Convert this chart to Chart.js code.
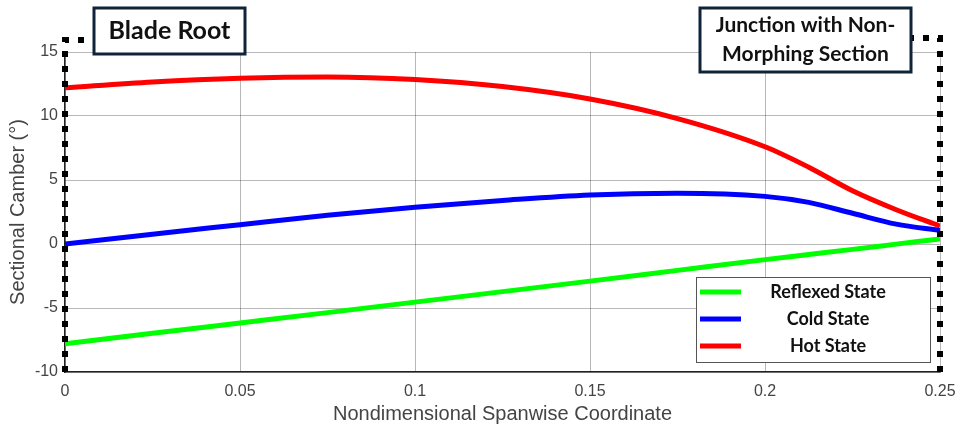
<!DOCTYPE html>
<html>
<head>
<meta charset="utf-8">
<script src="https://cdn.jsdelivr.net/npm/chart.js@4"></script>
<style>
  html, body { margin: 0; padding: 0; background: #fff; }
  #wrap { width: 961px; height: 432px; }
</style>
</head>
<body>
<div id="wrap"><canvas id="camberChart"></canvas></div>
<script>
// ---------- Data ----------

const spanX = [0, 0.025, 0.05, 0.075, 0.1, 0.125, 0.15, 0.175, 0.2, 0.2125, 0.225, 0.2375, 0.25];

const reflexedState = [-7.8, -6.98, -6.17, -5.36, -4.54, -3.72, -2.9, -2.06, -1.22, -0.82, -0.42, -0.01, 0.4];
const coldState = [0, 0.77, 1.51, 2.25, 2.88, 3.4, 3.83, 3.97, 3.72, 3.25, 2.4, 1.55, 1.05];
const hotState = [12.2, 12.66, 12.95, 13.05, 12.85, 12.3, 11.33, 9.8, 7.6, 6.0, 4.16, 2.68, 1.4];

const xTicks = [0, 0.05, 0.1, 0.15, 0.2, 0.25];
const yTicks = [-10, -5, 0, 5, 10, 15];

const seriesNames = ["Reflexed State", "Cold State", "Hot State"];
const seriesColors = ["#00ff00", "#0000ff", "#ff0000"];

function toPoints(values) {
    return values.map((v, i) => ({ x: spanX[i], y: v }));
}

// -------- Boxes, dotted borders and legend --------

const boxFont = "Lato, 'Open Sans', sans-serif";
const axisFont = "'Liberation Sans', Arial, sans-serif";

function labelBox(ctx, x, y, w, h, lines, size) {
    ctx.save();
    ctx.fillStyle = "#ffffff";
    ctx.fillRect(x, y, w, h);
    ctx.lineWidth = 3;
    ctx.strokeStyle = "#0f2438";
    ctx.strokeRect(x, y, w, h);
    ctx.fillStyle = "#111111";
    ctx.font = "bold " + size + "px " + boxFont;
    ctx.textAlign = "center";
    ctx.textBaseline = "middle";
    const step = h / (lines.length + 0.2);
    lines.forEach((t, i) => {
        ctx.fillText(t, x + w / 2, y + step * (i + 0.6));
    });
    ctx.restore();
}

const overlayPlugin = {
    id: "overlay",
    afterDraw(chart) {
        const ctx = chart.ctx;
        const xs = chart.scales.x;
        const left = xs.getPixelForValue(0);
        const right = xs.getPixelForValue(0.25);
        const bottom = chart.chartArea.bottom;

        // dotted black borders at root and junction
        ctx.save();
        ctx.strokeStyle = "#000000";
        ctx.lineWidth = 6;
        ctx.setLineDash([6, 9]);
        ctx.beginPath();
        ctx.moveTo(left, bottom);
        ctx.lineTo(left, 40);
        ctx.lineTo(94, 40);
        ctx.moveTo(right, bottom);
        ctx.lineTo(right, 38);
        ctx.lineTo(908, 38);
        ctx.stroke();
        ctx.restore();

        labelBox(ctx, 94, 8, 151, 46, ["Blade Root"], 25);
        labelBox(ctx, 700, 8, 211, 64, ["Junction with Non-", "Morphing Section"], 21);

        // legend
        const lx = 696, ly = 277, lw = 234, lh = 85;
        ctx.save();
        ctx.fillStyle = "#ffffff";
        ctx.fillRect(lx, ly, lw, lh);
        ctx.lineWidth = 1;
        ctx.strokeStyle = "#555555";
        ctx.strokeRect(lx + 0.5, ly + 0.5, lw, lh);
        ctx.font = "bold 18px " + boxFont;
        ctx.textAlign = "center";
        ctx.textBaseline = "middle";
        const rows = [292, 319, 346];
        chart.data.datasets.forEach((ds, i) => {
            ctx.strokeStyle = ds.borderColor;
            ctx.lineWidth = 5;
            ctx.beginPath();
            ctx.moveTo(700, rows[i]);
            ctx.lineTo(741, rows[i]);
            ctx.stroke();
            ctx.fillStyle = "#111111";
            ctx.fillText(ds.label, 828, rows[i]);
        });
        ctx.restore();
    }
};

// -------- Create Chart --------

const camberChart = new Chart(document.getElementById("camberChart"), {

    type: "line",

    data: {
        datasets: seriesNames.map((name, i) => ({
            label: name,
            data: toPoints([reflexedState, coldState, hotState][i]),
            borderColor: seriesColors[i],
            backgroundColor: seriesColors[i],
            borderWidth: 5,
            fill: false,
            pointRadius: 0,
            cubicInterpolationMode: "monotone"
        }))
    },

    options: {

        responsive: true,

        maintainAspectRatio: false,

        animation: false,

        layout: {
            padding: { top: 52, right: 21, left: 0, bottom: 0 }
        },

        plugins: {
            legend: { display: false },
            tooltip: { enabled: false }
        },

        scales: {

            x: {
                type: "linear",
                min: 0,
                max: 0.25,
                afterBuildTicks: (scale) => {
                    scale.ticks = xTicks.map(v => ({ value: v }));
                },
                afterFit: (scale) => {
                    scale.height = 60;
                    scale.paddingLeft = 0;
                    scale.paddingRight = 0;
                },
                ticks: {
                    color: "#444444",
                    font: { family: axisFont, size: 16 },
                    padding: 10,
                    maxRotation: 0,
                    callback: (v) => String(v)
                },
                grid: {
                    color: "rgba(0,0,0,0.28)",
                    drawTicks: false
                },
                border: { color: "#222222", width: 1.5 },
                title: {
                    display: true,
                    text: "Nondimensional Spanwise Coordinate",
                    color: "#444444",
                    font: { family: axisFont, size: 20 },
                    padding: { top: 2, bottom: 6 }
                }
            },

            y: {
                min: -10,
                max: 15,
                afterBuildTicks: (scale) => {
                    scale.ticks = yTicks.map(v => ({ value: v }));
                },
                afterFit: (scale) => { scale.width = 65; },
                ticks: {
                    color: "#444444",
                    font: { family: axisFont, size: 16 },
                    padding: 7,
                    callback: (v) => String(v)
                },
                grid: {
                    color: "rgba(0,0,0,0.28)",
                    drawTicks: false
                },
                border: { color: "#222222", width: 1.5 },
                title: {
                    display: true,
                    text: "Sectional Camber (°)",
                    color: "#444444",
                    font: { family: axisFont, size: 20 },
                    padding: { top: 6, bottom: 0 }
                }
            }

        }

    },

    plugins: [overlayPlugin]

});
</script>
</body>
</html>
